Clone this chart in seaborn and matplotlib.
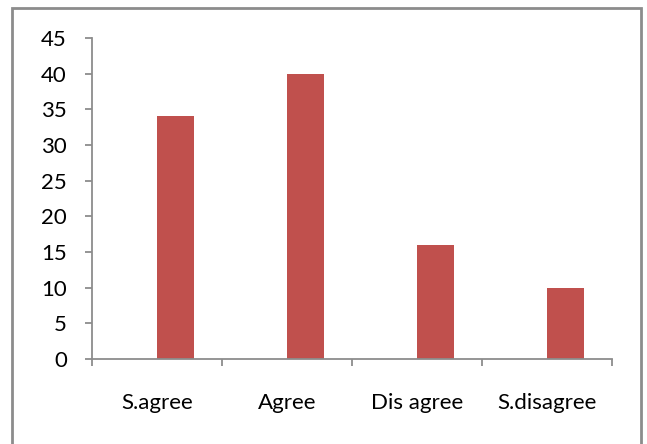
import matplotlib
matplotlib.use("Agg")
import matplotlib.pyplot as plt
import matplotlib.patches as mpatches
import seaborn as sns
import pandas as pd

categories = ["S.agree", "Agree", "Dis agree", "S.disagree"]
responses = [34, 40, 16, 10]
placeholder = [0, 0, 0, 0]
y_ticks = [0, 5, 10, 15, 20, 25, 30, 35, 40, 45]

sns.set_theme(style="white")
plt.rcParams["font.family"] = ["Lato", "DejaVu Sans"]

df = pd.DataFrame({
    "category": categories * 2,
    "value": placeholder + responses,
    "series": ["blank"] * 4 + ["Responses"] * 4,
})

fig = plt.figure(figsize=(6.47, 4.44), dpi=100)
ax = fig.add_axes([0.1422, 0.1914, 0.8037, 0.723])

sns.barplot(data=df, x="category", y="value", hue="series",
            hue_order=["blank", "Responses"], order=categories,
            palette={"blank": "#C0504D", "Responses": "#C0504D"},
            width=0.57, dodge=True, linewidth=0, saturation=1,
            legend=False, ax=ax)

ax.set_xlim(-0.5, len(categories) - 0.5)
ax.set_ylim(0, 45)
ax.set_yticks(y_ticks)
ax.set_yticklabels([str(t) for t in y_ticks], fontsize=16, color="black")
ax.set_xlabel("")
ax.set_ylabel("")

# category dividers as outward tick marks
ax.set_xticks([i - 0.5 for i in range(len(categories) + 1)])
ax.set_xticklabels([])
ax.set_xticks(range(len(categories)), minor=True)
ax.set_xticklabels(categories, minor=True, fontsize=16, color="black")
ax.tick_params(axis="x", which="minor", bottom=True, length=0, pad=24.5)
ax.tick_params(axis="x", which="major", bottom=True, length=5, width=1.3,
               color="#8c8c8c", direction="out")
ax.tick_params(axis="y", left=True, length=5, width=1.3, color="#8c8c8c",
               direction="out", pad=13)

for side in ["top", "right"]:
    ax.spines[side].set_visible(False)
for side in ["left", "bottom"]:
    ax.spines[side].set_color("#8c8c8c")
    ax.spines[side].set_linewidth(1.3)

# chart-area border
border = mpatches.Rectangle((12 / 647, -0.05), (641 - 12) / 647, 1.05 - 8 / 444,
                            transform=fig.transFigure, fill=False,
                            edgecolor="#8c8c8c", linewidth=2, clip_on=False)
fig.patches.append(border)

fig.savefig("out.png", dpi=100)
